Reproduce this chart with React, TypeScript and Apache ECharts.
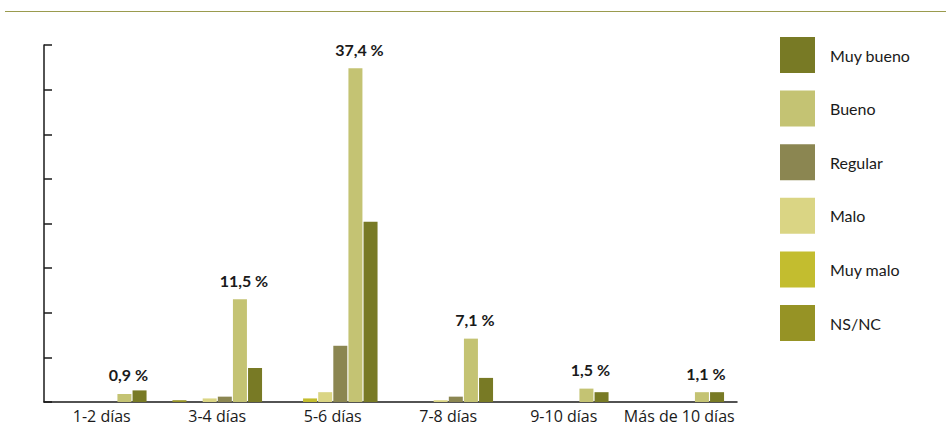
import React, { useEffect, useRef } from "react";
import * as echarts from "echarts";

const categories = ["1-2 días", "3-4 días", "5-6 días", "7-8 días", "9-10 días", "Más de 10 días"];
const nsnc = [0, 0.2, 0, 0, 0, 0];
const muyMalo = [0, 0, 0.4, 0, 0, 0];
const malo = [0, 0.4, 1.1, 0.2, 0, 0];
const regular = [0, 0.6, 6.3, 0.6, 0, 0];
const bueno = [0.9, 11.5, 37.4, 7.1, 1.5, 1.1];
const muyBueno = [1.3, 3.8, 20.2, 2.7, 1.1, 1.1];

const seriesDefs = [
  { name: "NS/NC", data: nsnc, color: "#969325" },
  { name: "Muy malo", data: muyMalo, color: "#C3BD2F" },
  { name: "Malo", data: malo, color: "#DAD584" },
  { name: "Regular", data: regular, color: "#8B8651" },
  { name: "Bueno", data: bueno, color: "#C4C373" },
  { name: "Muy bueno", data: muyBueno, color: "#787A25" },
];
const legendOrder = ["Muy bueno", "Bueno", "Regular", "Malo", "Muy malo", "NS/NC"];

export default function App() {
  const ref = useRef<HTMLDivElement>(null);
  useEffect(() => {
    if (!ref.current) return;
    const chart = echarts.init(ref.current, null, { renderer: "svg" });
    const fmt = (v: number) => `${String(v).replace(".", ",")} %`;
    chart.setOption({
      animation: false,
      backgroundColor: "#ffffff",
      graphic: [
        {
          type: "line",
          shape: { x1: 5, y1: 11.5, x2: 946, y2: 11.5 },
          style: { stroke: "#9A9B4E", lineWidth: 1 },
        },
      ],
      grid: { left: 44, right: 209, top: 45, bottom: 24, containLabel: false },
      legend: {
        orient: "vertical",
        left: 775,
        top: 32,
        itemWidth: 35,
        itemHeight: 36,
        itemGap: 17.6,
        icon: "rect",
        data: legendOrder,
        selectedMode: false,
        textStyle: {
          fontFamily: "Lato",
          fontSize: 16,
          color: "#1a1a1a",
          padding: [0, 0, 0, 10],
        },
      },
      xAxis: {
        type: "category",
        data: categories,
        axisLine: { lineStyle: { color: "#1a1a1a", width: 1.5 } },
        axisTick: { inside: true, length: 8, lineStyle: { color: "#1a1a1a", width: 1.5 } },
        axisLabel: {
          interval: 0,
          fontFamily: "Open Sans",
          fontSize: 16,
          color: "#1a1a1a",
          margin: 6,
        },
      },
      yAxis: {
        type: "value",
        min: 0,
        max: 40,
        interval: 5,
        axisLine: { show: true, lineStyle: { color: "#1a1a1a", width: 1.5 } },
        axisTick: { show: true, inside: true, length: 8, lineStyle: { color: "#1a1a1a", width: 1.5 } },
        axisLabel: { show: false },
        splitLine: { show: false },
      },
      series: seriesDefs.map((s) => ({
        type: "bar",
        name: s.name,
        data: s.data,
        barWidth: 14,
        barGap: "8%",
        itemStyle: { color: s.color },
        label:
          s.name === "Bueno"
            ? {
                show: true,
                position: "top",
                distance: 11,
                offset: [4, 0],
                formatter: (p: any) => fmt(p.value),
                fontFamily: "Lato",
                fontWeight: "bold",
                fontSize: 16,
                color: "#1a1a1a",
              }
            : { show: false },
      })),
    });
    return () => chart.dispose();
  }, []);
  return (
    <div
      ref={ref}
      style={{ position: "fixed", left: 0, top: 0, width: 946, height: 426 }}
    />
  );
}
